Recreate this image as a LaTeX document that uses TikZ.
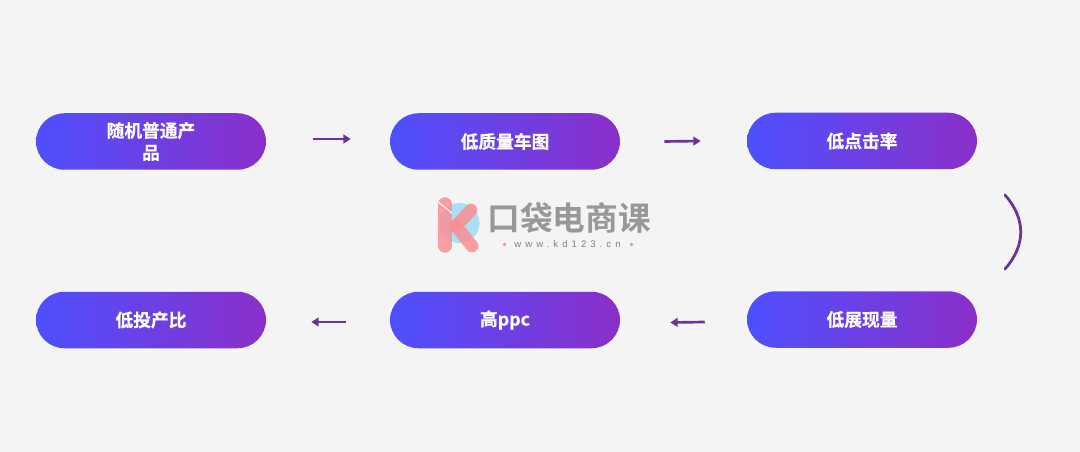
\documentclass[tikz,border=0pt]{standalone}
\usepackage{fontspec}
\setmainfont{Noto Sans CJK SC}
\newfontfamily\lab[FakeBold=0.6]{Noto Sans CJK SC Bold}
\newfontfamily\logofont{Noto Sans CJK SC Bold}
\newfontfamily\urlfont[LetterSpace=42]{Liberation Sans}
\usetikzlibrary{arrows.meta}
\definecolor{bg}{HTML}{F4F4F4}
\definecolor{pillL}{HTML}{4E50FF}
\definecolor{pillR}{HTML}{8B2FC9}
\definecolor{flowc}{HTML}{6B3596}
\definecolor{logogrey}{HTML}{989898}
\definecolor{logopink}{HTML}{F98F92}
\definecolor{logoblue}{HTML}{A9E0F8}
\tikzset{
  pill/.style={rounded corners=28.5*0.75pt,minimum width=230*0.75pt,minimum height=56.5*0.75pt,
    left color=pillL,right color=pillR,draw=none,inner sep=0pt,text=white,
    font=\fontsize{13.3pt}{16.5pt}\lab,align=center,text width=100*0.75pt},
  flow/.style={draw=flowc,line width=2pt,-{Triangle[length=5.5pt,width=6.5pt]}},
  arcline/.style={draw=flowc,line width=2.1pt,line cap=round},
  bar/.style={line width=9.5pt,line cap=round,draw=logopink,draw opacity=.85}
}
\begin{document}
\begin{tikzpicture}[x=0.75pt,y=-0.75pt]
\useasboundingbox (0,0) rectangle (1080,452);
\fill[bg] (0,0) rectangle (1080,452);
% logo
\fill[logoblue] (459.5,223) circle[radius=20];
\draw[bar,line width=10pt] (445,204) -- (445,246);
\draw[white,line width=.8pt] (437,201) -- (452,213);
\draw[bar] (471,210) -- (456,226);
\draw[bar] (456,226) -- (472,246);
\node[font=\fontsize{24.5pt}{26pt}\logofont,text=logogrey,inner sep=0pt] (logo) at (569,218) {口袋电商课};
\node[font=\fontsize{7.2pt}{8pt}\urlfont,text=logogrey!85!black,inner sep=0pt] (url) at (567.5,244.5) {www.kd123.cn};
\fill[logopink] (504.5,244.5) circle[radius=1.8];
\fill[logoblue!80!blue] (631.5,244.5) circle[radius=1.8];
% pills
\node[pill] (a) at (151,141.5) {随机普通产\\品};
\node[pill] (b) at (505,141.5) {低质量车图};
\node[pill] (c) at (862,141) {低点击率};
\node[pill] (d) at (862,319.5) {低展现量};
\node[pill] (e) at (505,320) {高ppc};
\node[pill] (f) at (151,320) {低投产比};
% connectors
\draw[flow] ([shift={(47,-2.5)}]a.east) -- ([shift={(-39,-2.5)}]b.west);
\draw[flow] ([shift={(44,0)}]b.east) -- ([shift={(-46,0)}]c.west);
\draw[flow] ([shift={(-42,2.5)}]d.west) -- ([shift={(50,2.5)}]e.east);
\draw[flow] ([shift={(-44,2)}]e.west) -- ([shift={(45,2)}]f.east);
\coordinate (bs) at (1005,195);
\coordinate (be) at (1005,269);
\draw[arcline] (bs) .. controls (1026,219) and (1026,245) .. (be);
\end{tikzpicture}
\end{document}
